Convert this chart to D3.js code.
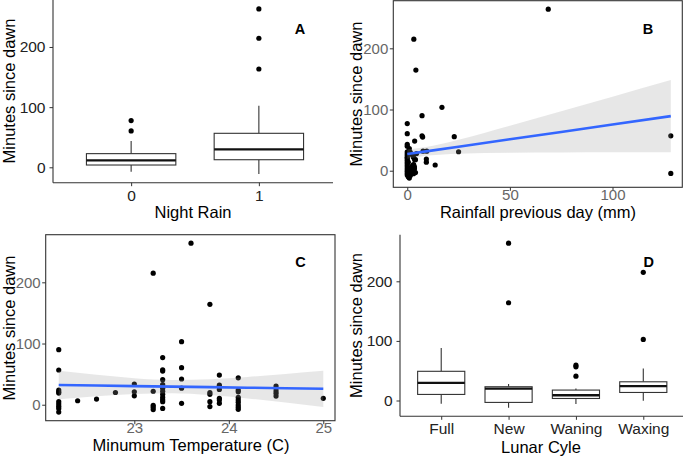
<!DOCTYPE html>
<html><head><meta charset="utf-8">
<script src="https://cdn.jsdelivr.net/npm/d3@7"></script>
<style>
body{margin:0;background:#fff}
svg{display:block}
text{font-family:'Liberation Sans',Arial,Helvetica,sans-serif}
</style>
</head><body>
<svg id="c" width="685" height="458"></svg>
<script>
// ---------- DATA ----------
// Panel A: Night Rain boxplots
const rainCats   = ["0", "1"];
const rainLower  = [-7.3, -11.1];
const rainQ1     = [3.8, 12.6];
const rainMedian = [11.6, 29.9];
const rainQ3     = [22.7, 56.5];
const rainUpper  = [43.8, 102.4];
const rainOutliers = [[77.7, 60.5], [263.2, 214.5, 163.4]];

// Panel B: rainfall previous day (mm) vs minutes since dawn
const rainfallPoints = [
  [68.7,264],[3.2,215],[4.2,164.5],[16.9,103.6],[7.2,90],[0,77],[0,60.5],[7.2,57],[7.5,55],
  [22.9,55.6],[3.6,48.5],[0,43],[0,40],[25,31],[7.7,32],[9.5,32],[9.3,19],[9.3,14],[13.6,9.3],
  [128.4,57],[128.4,-4.4],
  [0,31],[0,28],[0,25],[0,22],[0,20],[0,17],[0,14],[0,11],[0,8],[0,5],[0,2],[0,-1],[0,-4],[0,-7],
  [0.5,-10],[1,-12],[1.5,-8],[2,5],[2.5,8],[3,10],[3.5,3],[2,-2],[4,-3],[3.5,6],[4,18],[3,22],
  [1.5,30],[2.5,26],[4.5,28],[1,36],[0.5,14],[1.5,0],[3,-5],[2.8,25],[3.6,18],[3.2,9],[2.1,4],[2.8,-1]
];
const rainfallFitX     = [0, 10, 25, 50, 75, 100, 128.4];
const rainfallFitY     = [27.2, 32.0, 39.3, 51.4, 63.4, 75.5, 89.2];
const rainfallFitLower = [19.6, 24.7, 27.8, 29.2, 29.7, 30.0, 30.2];
const rainfallFitUpper = [34.8, 39.3, 50.8, 73.6, 97.1, 121.0, 148.2];

// Panel C: minimum temperature vs minutes since dawn
const tempPoints = [
  [22.2,90],[22.2,56.7],[22.2,24],[22.2,21],[22.2,19],[22.2,5],[22.2,1],[22.2,-2.5],[22.2,-6],[22.2,-12],
  [22.4,6.5],[22.6,9.3],[22.8,20],
  [23.0,33.8],[23.0,21],[23.0,14.5],
  [23.2,215],[23.2,22],[23.2,-1],[23.2,-4],[23.2,-8],
  [23.3,77],[23.3,57],[23.3,55],[23.3,41],[23.3,33],[23.3,27],[23.3,22],[23.3,17],[23.3,12],[23.3,8],[23.3,5],[23.3,-6],
  [23.5,103],[23.5,60.5],[23.5,42],[23.5,27],[23.5,2.3],
  [23.6,264],
  [23.8,164],[23.8,20],[23.8,17],[23.8,5],[23.8,-3],
  [23.9,48.5],[23.9,32],[23.9,25],[23.9,10.5],[23.9,7.7],[23.9,2.3],
  [24.1,44],[24.1,24],[24.1,21],[24.1,12],[24.1,7.7],[24.1,4],[24.1,-0.5],[24.1,-4],[24.1,-7.5],
  [24.5,30.5],[24.5,26.8],[24.5,22.4],[24.5,18.6],[24.5,14.2],
  [25.0,10.5]
];
const tempFitX     = [22.2, 22.6, 23.0, 23.4, 23.8, 24.2, 24.6, 25.0];
const tempFitY     = [32.2, 31.3, 30.4, 29.6, 28.7, 27.8, 27.0, 26.0];
const tempFitLower = [8.8, 13.7, 17.4, 18.6, 15.7, 10.2, 3.6, -3.6];
const tempFitUpper = [55.6, 48.9, 43.4, 40.6, 41.7, 45.4, 50.4, 55.6];

// Panel D: lunar cycle boxplots
const lunarCats   = ["Full", "New", "Waning", "Waxing"];
const lunarLower  = [-5.5, -12, -6, -0.5];
const lunarQ1     = [10.2, -3.2, 3.4, 13.5];
const lunarMedian = [29.6, 20.0, 8.8, 24.0];
const lunarQ3     = [49, 23.1, 17.5, 31.4];
const lunarUpper  = [88, 27.5, 20, 53.8];
const lunarOutliers = [[], [264, 164], [59.3, 56.5, 40.8], [215, 102.5]];

const yTicks = [0, 100, 200];
const bTicks = [0, 50, 100];
const cTicks = [23, 24, 25];
const yTitle = "Minutes since dawn";

// ---------- DRAWING ----------
const svg = d3.select("#c");
const AX = "#333333";

function yAxis(g, scale, x, gap, color, fs) {
  const a = g.append("g").attr("transform", `translate(${x},0)`)
    .call(d3.axisLeft(scale).tickValues(yTicks).tickSize(3.5).tickSizeOuter(0).tickPadding(gap));
  a.select(".domain").remove();
  a.selectAll(".tick line").attr("stroke", AX).attr("stroke-width", 1);
  a.selectAll(".tick text").attr("fill", color).style("font-size", fs + "px")
    .attr("font-family", "'Liberation Sans',Arial,sans-serif");
}
function xAxis(g, scale, ticks, y, off, color, fs) {
  const ax = d3.axisBottom(scale).tickSize(3.5).tickSizeOuter(0);
  if (ticks) ax.tickValues(ticks).tickFormat(d3.format("d"));
  const a = g.append("g").attr("transform", `translate(0,${y})`).call(ax);
  a.select(".domain").remove();
  a.selectAll(".tick line").attr("stroke", AX).attr("stroke-width", 1);
  a.selectAll(".tick text").attr("fill", color).style("font-size", fs + "px")
    .attr("font-family", "'Liberation Sans',Arial,sans-serif")
    .attr("y", off).attr("dy", 0);
}
function yLabel(x, cy) {
  svg.append("text").attr("transform", `translate(${x},${cy}) rotate(-90)`)
    .attr("text-anchor", "middle").style("font-size", "16.5px").attr("fill", "#000").text(yTitle);
}
function xLabel(cx, y, t) {
  svg.append("text").attr("x", cx).attr("y", y).attr("text-anchor", "middle")
    .style("font-size", "16.5px").attr("fill", "#000").text(t);
}
function tag(x, y, t) {
  svg.append("text").attr("x", x).attr("y", y).attr("text-anchor", "middle")
    .style("font-size", "14.5px").style("font-weight", "bold").attr("fill", "#000").text(t);
}
function boxes(g, xs, ys, cats, lo, q1, med, q3, up, outs) {
  const w = 0.7 * xs.step();
  cats.forEach((c, i) => {
    const cx = xs(c);
    g.append("line").attr("x1", cx).attr("x2", cx).attr("y1", ys(q3[i])).attr("y2", ys(up[i]))
      .attr("stroke", AX).attr("stroke-width", 1.1);
    g.append("line").attr("x1", cx).attr("x2", cx).attr("y1", ys(q1[i])).attr("y2", ys(lo[i]))
      .attr("stroke", AX).attr("stroke-width", 1.1);
    g.append("rect").attr("x", cx - w / 2).attr("width", w)
      .attr("y", ys(q3[i])).attr("height", ys(q1[i]) - ys(q3[i]))
      .attr("fill", "#fff").attr("stroke", AX).attr("stroke-width", 1.1);
    g.append("line").attr("x1", cx - w / 2).attr("x2", cx + w / 2)
      .attr("y1", ys(med[i])).attr("y2", ys(med[i]))
      .attr("stroke", "#111").attr("stroke-width", 2.3);
    g.selectAll(null).data(outs[i]).join("circle")
      .attr("cx", cx).attr("cy", d => ys(d)).attr("r", 2.6).attr("fill", "#000");
  });
}
function scatter(g, xs, ys, pts, fx, fy, flo, fup) {
  g.selectAll(null).data(pts).join("circle")
    .attr("cx", d => xs(d[0])).attr("cy", d => ys(d[1])).attr("r", 2.6).attr("fill", "#000");
  const band = fx.map((x, i) => ({x, lo: flo[i], up: fup[i], y: fy[i]}));
  g.append("path").datum(band)
    .attr("d", d3.area().x(d => xs(d.x)).y0(d => ys(d.lo)).y1(d => ys(d.up)).curve(d3.curveMonotoneX))
    .attr("fill", "#999999").attr("fill-opacity", 0.23);
  g.append("path").datum(band)
    .attr("d", d3.line().x(d => xs(d.x)).y(d => ys(d.y)))
    .attr("fill", "none").attr("stroke", "#3366FF").attr("stroke-width", 2.6);
}

// ----- Panel A -----
{
  const g = svg.append("g");
  const xs = d3.scalePoint().domain(rainCats).range([54.5, 335.5]).padding(0.6);
  const ys = d3.scaleLinear().domain([-25.6, 278.1]).range([182.7, 0]);
  boxes(g, xs, ys, rainCats, rainLower, rainQ1, rainMedian, rainQ3, rainUpper, rainOutliers);
  g.append("line").attr("x1", 53).attr("x2", 53).attr("y1", 0).attr("y2", 182.7).attr("stroke", AX).attr("stroke-width", 1.1);
  g.append("line").attr("x1", 53).attr("x2", 333).attr("y1", 182.7).attr("y2", 182.7).attr("stroke", AX).attr("stroke-width", 1.1);
  yAxis(g, ys, 53, 4, "#222", 15.5);
  xAxis(g, xs, null, 182.7, 18, "#222", 15.5);
  yLabel(14.5, 91);
  xLabel(193, 218.3, "Night Rain");
  tag(300, 34, "A");
}
// ----- Panel B -----
{
  const g = svg.append("g");
  const xs = d3.scaleLinear().domain([-6.8, 134.0]).range([393.3, 682.3]);
  const ys = d3.scaleLinear().domain([-27.1, 277.8]).range([187.3, 0.7]);
  scatter(g, xs, ys, rainfallPoints, rainfallFitX, rainfallFitY, rainfallFitLower, rainfallFitUpper);
  g.append("rect").attr("x", 393.3).attr("y", 0.7).attr("width", 289).attr("height", 186.6)
    .attr("fill", "none").attr("stroke", AX).attr("stroke-width", 1.1);
  yAxis(g, ys, 393.3, 1.5, "#666", 15);
  xAxis(g, xs, bTicks, 187.3, 13, "#666", 15);
  yLabel(361.5, 94);
  xLabel(538, 218.3, "Rainfall previous day (mm)");
  tag(648, 34, "B");
}
// ----- Panel C -----
{
  const g = svg.append("g");
  const xs = d3.scaleLinear().domain([22.062, 25.124]).range([45.7, 335]);
  const ys = d3.scaleLinear().domain([-26.1, 277.8]).range([420.7, 234.7]);
  scatter(g, xs, ys, tempPoints, tempFitX, tempFitY, tempFitLower, tempFitUpper);
  g.append("rect").attr("x", 45.7).attr("y", 234.7).attr("width", 289.3).attr("height", 186)
    .attr("fill", "none").attr("stroke", AX).attr("stroke-width", 1.1);
  yAxis(g, ys, 45.7, 1.5, "#666", 15);
  xAxis(g, xs, cTicks, 420.7, 12.5, "#666", 15);
  yLabel(14.5, 328);
  xLabel(191, 451.3, "Minumum Temperature (C)");
  tag(300.5, 267.3, "C");
}
// ----- Panel D -----
{
  const g = svg.append("g");
  const xs = d3.scalePoint().domain(lunarCats).range([400.8, 683.7]).padding(0.6);
  const ys = d3.scaleLinear().domain([-26.5, 278.2]).range([416.3, 234.7]);
  boxes(g, xs, ys, lunarCats, lunarLower, lunarQ1, lunarMedian, lunarQ3, lunarUpper, lunarOutliers);
  g.append("line").attr("x1", 400).attr("x2", 400).attr("y1", 234.7).attr("y2", 416.3).attr("stroke", AX).attr("stroke-width", 1.1);
  g.append("line").attr("x1", 400).attr("x2", 683).attr("y1", 416.3).attr("y2", 416.3).attr("stroke", AX).attr("stroke-width", 1.1);
  yAxis(g, ys, 400, 4, "#222", 15.5);
  xAxis(g, xs, null, 416.3, 17.7, "#222", 15.5);
  yLabel(361.5, 325.5);
  xLabel(541, 452.7, "Lunar Cyle");
  tag(648.7, 267.3, "D");
}
</script>
</body></html>
